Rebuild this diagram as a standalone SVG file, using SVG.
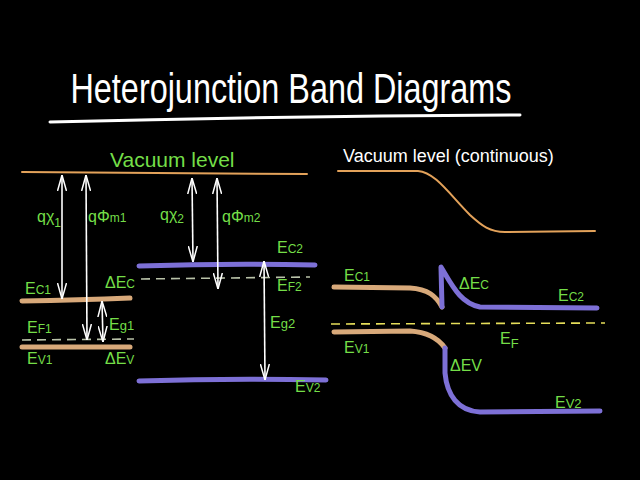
<svg xmlns="http://www.w3.org/2000/svg" width="640" height="480" viewBox="0 0 640 480">
<defs>
<style>
.lbl{fill:#74de48;font-family:"Liberation Sans",Arial,sans-serif;font-size:16px}
.wt{fill:#ffffff;font-family:"Liberation Sans",Arial,sans-serif}
.vac{stroke:#e3a25a;stroke-width:2;fill:none;stroke-linecap:round}
.tan{stroke:#d8a97a;stroke-width:5;fill:none;stroke-linecap:round}
.blue{stroke:#7d70d6;stroke-width:5;fill:none;stroke-linecap:round;stroke-linejoin:round}
.fermi{stroke:#b9c2a8;stroke-width:1.6;fill:none;stroke-dasharray:9 6}
.arr{stroke:#ffffff;stroke-width:1.6;fill:none;marker-start:url(#ah);marker-end:url(#ah)}
</style>
<marker id="ah" viewBox="0 0 16 10" refX="16" refY="5" markerWidth="16" markerHeight="10" markerUnits="userSpaceOnUse" orient="auto-start-reverse">
<path d="M0,0.5 L16,5 L0,9.5" fill="none" stroke="#ffffff" stroke-width="1.5"/>
</marker>
</defs>
<rect width="640" height="480" fill="#000000"/>

<g id="title">
<text class="wt" transform="translate(291,103) scale(0.90,1.17)" text-anchor="middle" style="font-size:36px">Heterojunction Band Diagrams</text>
<path d="M50,122 Q280,116 520,115" stroke="#ffffff" stroke-width="3" fill="none" stroke-linecap="round"/>
</g>

<g id="left-diagram">
<g id="vacuum-level">
<line class="vac" x1="22" y1="172" x2="307" y2="174"/>
<text class="lbl" x="110" y="167" style="font-size:21px">Vacuum level</text>
</g>
<g id="Ec1">
<path class="tan" d="M22,301 Q80,300 130,298"/>
<text class="lbl" x="25" y="294">E<tspan font-size="12">C1</tspan></text>
</g>
<g id="EF1">
<line class="fermi" x1="22" y1="340" x2="134" y2="339"/>
<text class="lbl" x="27" y="333">E<tspan font-size="12">F1</tspan></text>
</g>
<g id="Ev1">
<line class="tan" x1="22" y1="347" x2="130" y2="347"/>
<text class="lbl" x="27" y="364">E<tspan font-size="12">V1</tspan></text>
</g>
<g id="Ec2">
<path class="blue" d="M139,266 Q230,263 315,265"/>
<text class="lbl" x="277" y="253">E<tspan font-size="12">C2</tspan></text>
</g>
<g id="EF2">
<line class="fermi" x1="141" y1="279" x2="310" y2="277"/>
<text class="lbl" x="277" y="291">E<tspan font-size="12">F2</tspan></text>
</g>
<g id="Ev2">
<path class="blue" d="M139,381 Q230,378 326,380"/>
<text class="lbl" x="295" y="392">E<tspan font-size="12">V2</tspan></text>
</g>
<g id="labels-left">
<text class="lbl" x="37" y="222">qχ<tspan font-size="12" dy="5">1</tspan></text>
<text class="lbl" x="88" y="222">qΦ<tspan font-size="12">m1</tspan></text>
<text class="lbl" x="160" y="220">qχ<tspan font-size="12" dy="3">2</tspan></text>
<text class="lbl" x="222" y="222">qΦ<tspan font-size="12">m2</tspan></text>
<text class="lbl" x="105" y="288">ΔE<tspan font-size="12">C</tspan></text>
<text class="lbl" x="105" y="364">ΔE<tspan font-size="12">V</tspan></text>
<text class="lbl" x="109" y="330">E<tspan font-size="13">g1</tspan></text>
<text class="lbl" x="270" y="328">E<tspan font-size="13">g2</tspan></text>
</g>
</g>

<g id="connectors">
<line class="arr" x1="62" y1="175" x2="62" y2="299"/>
<line class="arr" x1="86" y1="175" x2="87" y2="340"/>
<line class="arr" x1="102" y1="301" x2="103" y2="342"/>
<line class="arr" x1="192" y1="178" x2="193" y2="262"/>
<line class="arr" x1="217" y1="178" x2="218" y2="289"/>
<line class="arr" x1="264" y1="261" x2="265" y2="380"/>
</g>

<g id="right-diagram">
<g id="vacuum-continuous">
<text class="wt" x="343" y="162" style="font-size:18px">Vacuum level (continuous)</text>
<path class="vac" d="M338,171 L418,171 C435,172 450,195 470,215 C482,226 490,232 505,232 L595,231"/>
</g>
<g id="Ec-band">
<path class="tan" d="M334,287 L410,288 C428,289 436,296 442,307"/>
<path class="blue" d="M442,307 L441,267 C452,285 460,303 480,307 L597,308"/>
<text class="lbl" x="344" y="281">E<tspan font-size="12">C1</tspan></text>
<text class="lbl" x="459" y="289">ΔE<tspan font-size="12">C</tspan></text>
<text class="lbl" x="558" y="301">E<tspan font-size="12">C2</tspan></text>
</g>
<g id="EF-level">
<line x1="331" y1="324" x2="605" y2="323" stroke="#e6de5a" stroke-width="1.6" stroke-dasharray="9 6"/>
<text class="lbl" x="500" y="344">E<tspan font-size="13" dy="4">F</tspan></text>
</g>
<g id="Ev-band">
<path class="tan" d="M334,332 L410,331 C425,332 438,338 445,348"/>
<path class="blue" d="M445,348 L445,373 C447,395 458,411 480,412 L600,411"/>
<text class="lbl" x="344" y="353">E<tspan font-size="12">V1</tspan></text>
<text class="lbl" x="450" y="371">ΔEV</text>
<text class="lbl" x="555" y="408">E<tspan font-size="13">V2</tspan></text>
</g>
</g>
</svg>
